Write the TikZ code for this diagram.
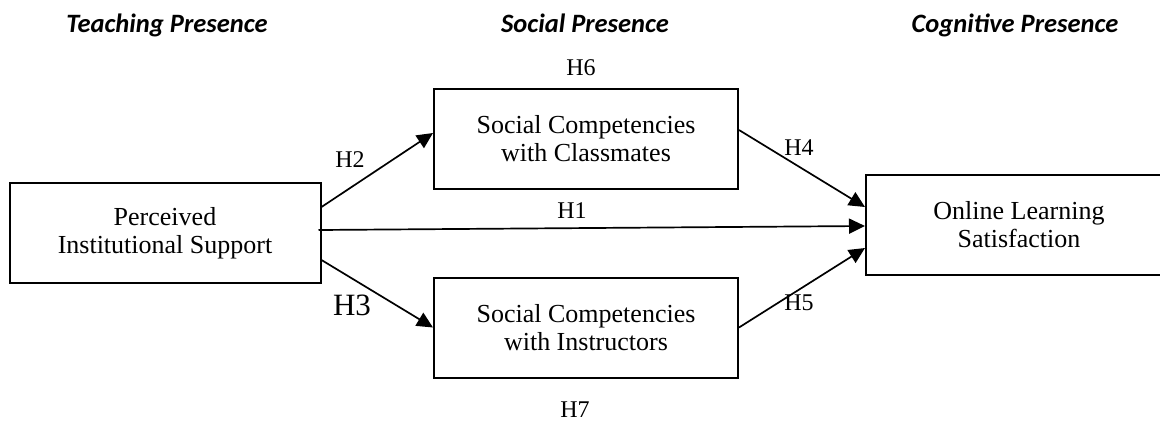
\documentclass[tikz,border=0pt]{standalone}
\usepackage{fontspec}
\setmainfont{Liberation Serif}
\newfontfamily\headfont{Carlito}
\usetikzlibrary{arrows.meta}
\begin{document}
\begin{tikzpicture}[x=1pt,y=-1pt,
  box/.style={draw, line width=2pt, align=center, inner sep=0pt,
    minimum height=100pt, font=\fontsize{26}{28}\selectfont},
  link/.style={line width=1.7pt, -{Triangle[length=16pt,width=15pt]}},
  hyp/.style={inner sep=0pt, font=\fontsize{24}{26}\selectfont},
  bighyp/.style={inner sep=0pt, font=\fontsize{31}{34}\selectfont},
  head/.style={inner sep=0pt, anchor=base, font=\headfont\bfseries\itshape\fontsize{26.5}{28}\selectfont}]
\clip (0,0) rectangle (1160,421);
\fill[white] (0,0) rectangle (1160,421);

% column headings
\node[head] (teach) at (167,32) {Teaching Presence};
\node[head] (social) at (585,32) {Social Presence};
\node[head] (cogn) at (1015,32) {Cognitive Presence};

% constructs
\node[box, minimum width=311pt] (pis) at (165,233) {Perceived\\Institutional Support};
\node[box, minimum width=304pt] (scc) at (586,139) {Social Competencies\\with Classmates};
\node[box, minimum width=304pt] (sci) at (586,327.5) {Social Competencies\\with Instructors};
\node[box, minimum width=306pt] (ols) at (1019,225) {Online Learning\\Satisfaction};

% hypothesised paths
\draw[link] ([yshift=26pt]pis.east) -- ([yshift=6pt]scc.west);
\draw[link] ([yshift=3pt,xshift=-3pt]pis.east) -- ([yshift=-1pt]ols.west);
\draw[link] ([yshift=-27pt]pis.east) -- (sci.west);
\draw[link] ([yshift=9pt]scc.east) -- ([yshift=18pt]ols.west);
\draw[link] (sci.east) -- ([yshift=-23pt]ols.west);

% hypothesis labels
\node[hyp] (h1) at (572,211) {H1};
\node[hyp] (h2) at (350,160) {H2};
\node[bighyp] (h3) at (352,305) {H3};
\node[hyp] (h4) at (799,148) {H4};
\node[hyp] (h5) at (799,303) {H5};
\node[hyp] (h6) at (581,68) {H6};
\node[hyp] (h7) at (575,410) {H7};
\end{tikzpicture}
\end{document}
